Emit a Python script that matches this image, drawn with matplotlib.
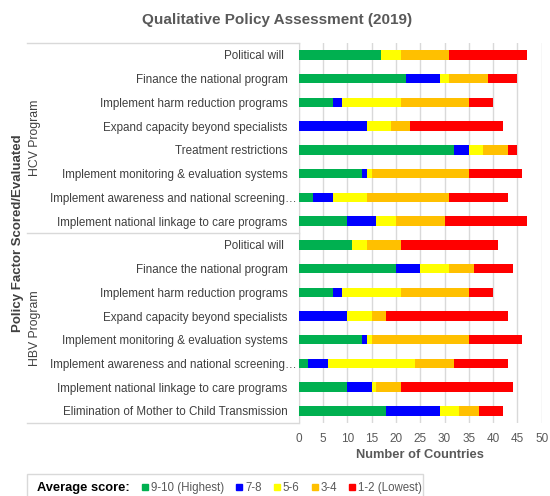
import matplotlib
matplotlib.use("Agg")
import matplotlib.pyplot as plt
from matplotlib.lines import Line2D
from matplotlib.patches import Rectangle
import matplotlib.transforms as mtransforms
import numpy as np

plt.rcParams['font.family'] = ['Liberation Sans', 'DejaVu Sans']

factors_hcv = ["Political will ", "Finance the national program", "Implement harm reduction programs",
               "Expand capacity beyond specialists", "Treatment restrictions",
               "Implement monitoring & evaluation systems", "Implement awareness and national screening\u2026",
               "Implement national linkage to care programs"]
factors_hbv = ["Political will ", "Finance the national program", "Implement harm reduction programs",
               "Expand capacity beyond specialists", "Implement monitoring & evaluation systems",
               "Implement awareness and national screening\u2026", "Implement national linkage to care programs",
               "Elimination of Mother to Child Transmission"]

score_labels = ["9-10 (Highest)", "7-8", "5-6", "3-4", "1-2 (Lowest)"]
score_colors = ["#00B050", "#0000FF", "#FFFF00", "#FFC000", "#FF0000"]

# counts per factor: [9-10, 7-8, 5-6, 3-4, 1-2]
hcv_counts = [
    [17, 0, 4, 10, 16],
    [22, 7, 2, 8, 6],
    [7, 2, 12, 14, 5],
    [0, 14, 5, 4, 19],
    [32, 3, 3, 5, 2],
    [13, 1, 1, 20, 11],
    [3, 4, 7, 17, 12],
    [10, 6, 4, 10, 17],
]
hbv_counts = [
    [11, 0, 3, 7, 20],
    [20, 5, 6, 5, 8],
    [7, 2, 12, 14, 5],
    [0, 10, 5, 3, 25],
    [13, 1, 1, 20, 11],
    [2, 4, 18, 8, 11],
    [10, 5, 1, 5, 23],
    [18, 11, 4, 4, 5],
]
x_ticks = [0, 5, 10, 15, 20, 25, 30, 35, 40, 45, 50]

labels = factors_hcv + factors_hbv
counts = np.array(hcv_counts + hbv_counts, dtype=float)
n = len(labels)
ypos = np.arange(n)

W, H = 550, 496
fig = plt.figure(figsize=(W/100, H/100), dpi=100)
ax = fig.add_axes([298.7/W, 1-422.8/H, (541.7-298.7)/W, (422.8-43.1)/H])

left = np.zeros(n)
for k in range(5):
    ax.barh(ypos, counts[:, k], left=left, height=0.4, color=score_colors[k],
            edgecolor='none', zorder=3)
    left += counts[:, k]

ax.set_ylim(n - 0.5, -0.5)
ax.set_xlim(0, 50)
ax.set_xticks(x_ticks)
ax.set_yticks(ypos)
ax.set_yticklabels(labels, fontsize=8.4, color='#404040')
ax.tick_params(axis='y', length=0, pad=8)
ax.tick_params(axis='x', length=0, labelsize=8.5, labelcolor='#595959', pad=7)
ax.grid(axis='x', color='#D9D9D9', linewidth=1, zorder=0)
for s in ['top', 'right', 'bottom']:
    ax.spines[s].set_visible(False)
ax.spines['left'].set_color('#D9D9D9')

# truncated labels sit closer to the axis in the original
for t in ax.get_yticklabels():
    if t.get_text().endswith('\u2026'):
        t.set_transform(t.get_transform() + mtransforms.ScaledTranslation(9/100, 0, fig.dpi_scale_trans))

# group separator lines
trans = mtransforms.blended_transform_factory(fig.transFigure, ax.transData)
for yv in [-0.5, 7.5, 15.5]:
    ax.add_line(Line2D([27/W, 298.7/W], [yv, yv], transform=trans, color='#D9D9D9',
                       linewidth=1, clip_on=False))
ax.text(35/W, 3.5, "HCV Program", transform=trans, rotation=90, ha='center', va='center',
        fontsize=8.8, color='#404040')
ax.text(35/W, 11.5, "HBV Program", transform=trans, rotation=90, ha='center', va='center',
        fontsize=8.8, color='#404040')
fig.text(18/W, 1-233/H, "Policy Factor Scored/Evaluated", rotation=90, ha='center', va='center',
         fontsize=9.5, fontweight='bold', color='#404040')

fig.text(277/W, 1-20/H, "Qualitative Policy Assessment (2019)", ha='center', va='center',
         fontsize=11, fontweight='bold', color='#595959')
fig.text(420/W, 1-455/H, "Number of Countries", ha='center', va='center',
         fontsize=9.3, fontweight='bold', color='#595959')

# legend frame
fig.patches.append(Rectangle((27.3/W, -0.01), (423-27.3)/W, (1-474/H) + 0.01,
                             transform=fig.transFigure, facecolor='none',
                             edgecolor='#D9D9D9', linewidth=1))
hs = [Line2D([], [], linestyle='none', marker=None, label="Average score:")]
for lab, col in zip(score_labels, score_colors):
    hs.append(Line2D([], [], linestyle='none', marker='s', markersize=4.5, color=col, label=lab))
leg = fig.legend(handles=hs, loc='center left', bbox_to_anchor=(28/W, 1-488/H), ncol=6,
                 frameon=False, fontsize=8.3, handlelength=0.6, handletextpad=0.22,
                 columnspacing=1.0, borderpad=0, borderaxespad=0)
texts = leg.get_texts()
texts[0].set_fontweight('bold')
texts[0].set_color('black')
texts[0].set_fontsize(9.3)
for t in texts[1:]:
    t.set_color('#595959')

fig.savefig("out.png", dpi=100)
